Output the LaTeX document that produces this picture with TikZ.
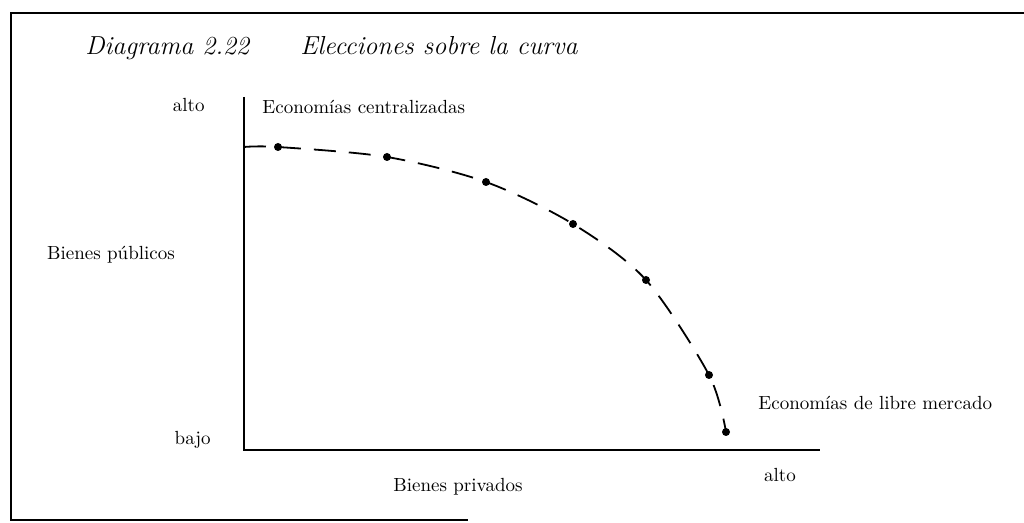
\documentclass[tikz,border=0pt]{standalone}
\usepackage{tikz}
\usetikzlibrary{positioning,calc}

\begin{document}
\begin{tikzpicture}[
  x=0.5pt, y=-0.5pt,
  lbl/.style={font=\fontsize{9.5}{11}\selectfont, inner sep=0pt},
  titulo/.style={font=\fontsize{13}{15}\selectfont\itshape, inner sep=0pt, anchor=base west},
  eje/.style={line width=1pt},
  curva/.style={line width=0.9pt, dash pattern=on 11pt off 6.5pt},
  punto/.style={circle, fill, inner sep=0pt, minimum size=4pt},
  every node/.style={lbl}
]

\useasboundingbox (0,0) rectangle (1024,523);

% Frame, open on the right
\draw[line width=1pt] (1024,13) -- (11,13) -- (11,520) -- (468,520);

% Title
\node[titulo] (diag) at (85,55) {Diagrama 2.22};
\node[titulo] (elec) at (300,55) {Elecciones sobre la curva};

% Axes
\coordinate (O) at (244,450);
\coordinate (ytop) at (244,97);
\coordinate (xend) at (820,450);
\draw[eje] (ytop) -- (O) -- (xend);

% Axis labels
\node[left=19.5pt of ytop, yshift=-4pt] (altoy) {alto};
\node[left=16.5pt of O, yshift=5pt] (bajo) {bajo};
\node (bpub) at (111,255) {Bienes públicos};
\node (bpriv) at (458,487) {Bienes privados};
\node[below=9pt of xend, xshift=-20pt] (altox) {alto};

% Curve points
\foreach \n/\x/\y in {0/244/147, 1/278/147, 2/387/157, 3/486/182,
                      4/573/224, 5/646/280, 6/709/375, 7/726/432}
  \coordinate (c\n) at (\x,\y);
\draw[curva] plot[smooth] coordinates {(c0) (c1) (c2) (c3) (c4) (c5) (c6) (c7)};
\foreach \n in {1,...,7}
  \node[punto] (p\n) at (c\n) {};

% Curve ends
\node[right=9pt of ytop, yshift=-5pt] (cent) {Economías centralizadas};
\node[anchor=west] (libre) at (758,403) {Economías de libre mercado};

\end{tikzpicture}
\end{document}
